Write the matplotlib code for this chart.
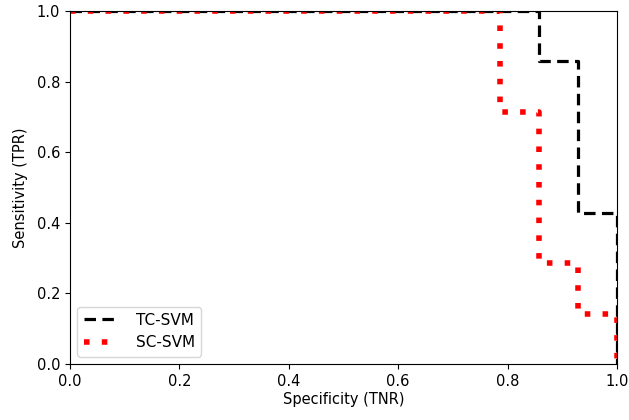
import matplotlib
matplotlib.use('Agg')
import matplotlib.pyplot as plt

# ROC-type step curves (specificity vs sensitivity)
tc_spec = [0.0, 12/14, 12/14, 13/14, 13/14, 1.0, 1.0]
tc_sens = [1.0, 1.0, 6/7, 6/7, 3/7, 3/7, 0.0]

sc_spec = [0.0, 11/14, 11/14, 12/14, 12/14, 13/14, 13/14, 1.0, 1.0]
sc_sens = [1.0, 1.0, 5/7, 5/7, 2/7, 2/7, 1/7, 1/7, 0.0]

plt.rcParams['font.size'] = 10.5
fig = plt.figure(figsize=(6.29, 4.2), dpi=100)
ax = fig.add_axes([0.111, 0.133, 0.870, 0.841])

ax.plot(tc_spec, tc_sens, color='black', linestyle=(0, (3.6, 2.0)), linewidth=2.3, label='TC-SVM')
ax.plot(sc_spec, sc_sens, color='red', linestyle=(0, (1.0, 2.2)), linewidth=4, label='SC-SVM')

ax.set_xlim(0, 1)
ax.set_ylim(0, 1)
ax.set_xlabel('Specificity (TNR)', labelpad=2)
ax.set_ylabel('Sensitivity (TPR)', labelpad=6)
ax.legend(loc='lower left', handlelength=2.2, handletextpad=1.2, fontsize=11)

fig.savefig('out.png', dpi=100)
